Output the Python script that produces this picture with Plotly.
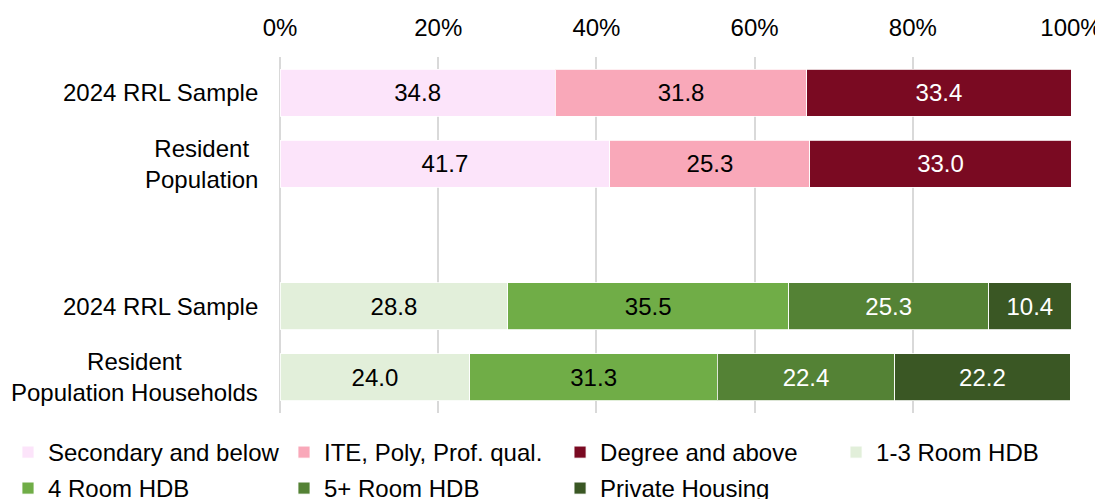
import plotly.graph_objects as go

# ---- data ----
row_ids = ["e1", "e2", "gap", "h1", "h2"]
row_labels = ["2024 RRL Sample", "Resident<br>Population", "", "2024 RRL Sample", "Resident<br>Population Households"]

edu_rows = ["e1", "e2"]
edu_series = ["Secondary and below", "ITE, Poly, Prof. qual.", "Degree and above"]
edu_values = {
    "Secondary and below": [34.8, 41.7],
    "ITE, Poly, Prof. qual.": [31.8, 25.3],
    "Degree and above": [33.4, 33.0],
}
house_rows = ["h1", "h2"]
house_series = ["1-3 Room HDB", "4 Room HDB", "5+ Room HDB", "Private Housing"]
house_values = {
    "1-3 Room HDB": [28.8, 24.0],
    "4 Room HDB": [35.5, 31.3],
    "5+ Room HDB": [25.3, 22.4],
    "Private Housing": [10.4, 22.2],
}
x_ticks = [0, 20, 40, 60, 80, 100]
x_tick_labels = ["0%", "20%", "40%", "60%", "80%", "100%"]

# ---- styles ----
colors = {
    "Secondary and below": "#FCE4FA",
    "ITE, Poly, Prof. qual.": "#F9A8B9",
    "Degree and above": "#7A0A22",
    "1-3 Room HDB": "#E2EFDA",
    "4 Room HDB": "#70AD47",
    "5+ Room HDB": "#548235",
    "Private Housing": "#3A5724",
}
text_colors = {
    "Secondary and below": "black",
    "ITE, Poly, Prof. qual.": "black",
    "Degree and above": "white",
    "1-3 Room HDB": "black",
    "4 Room HDB": "black",
    "5+ Room HDB": "white",
    "Private Housing": "white",
}
# legend placement: (legend name) for each series
legend_of = {
    "Secondary and below": "legend",
    "ITE, Poly, Prof. qual.": "legend",
    "Degree and above": "legend2",
    "1-3 Room HDB": "legend2",
    "4 Room HDB": "legend3",
    "5+ Room HDB": "legend3",
    "Private Housing": "legend4",
}
FONT = "Liberation Sans, Arial, sans-serif"
FS = 24

fig = go.Figure()


def add_series(rows, series, values):
    for s in series:
        fig.add_trace(go.Bar(
            y=rows, x=values[s], name=s, orientation="h",
            marker=dict(color=colors[s], line=dict(color="rgba(255,255,255,0.8)", width=1)),
            texttemplate="%{x:.1f}", textposition="inside",
            insidetextanchor="middle",
            textfont=dict(color=text_colors[s], size=FS, family=FONT),
            legend=legend_of[s], hoverinfo="skip",
        ))


add_series(edu_rows, edu_series, edu_values)
add_series(house_rows, house_series, house_values)

# y-axis labels as centered multi-line annotations
for rid, lab in zip(row_ids, row_labels):
    if lab:
        fig.add_annotation(
            x=0, xref="paper", y=rid, yref="y", text=lab, showarrow=False,
            xanchor="right", xshift=-20, align="center",
            font=dict(size=FS, family=FONT, color="black"),
        )

leg_common = dict(
    orientation="h", font=dict(size=FS, family=FONT, color="black"),
    entrywidth=231, entrywidthmode="pixels", bgcolor="rgba(0,0,0,0)",
    xanchor="left", yanchor="top", traceorder="normal",
    xref="container", yref="container",
)

fig.update_layout(
    width=1103, height=499,
    margin=dict(l=272, r=40, t=49, b=94, autoexpand=False),
    paper_bgcolor="white", plot_bgcolor="white",
    barmode="stack", bargap=0.34,
    font=dict(family=FONT, size=FS, color="black"),
    xaxis=dict(
        side="top", range=[0, 100], tickvals=x_ticks, ticktext=x_tick_labels,
        showgrid=True, gridcolor="#D9D9D9", gridwidth=1.5,
        zeroline=True, zerolinecolor="#D9D9D9", zerolinewidth=1.5,
        showline=False, ticks="", tickfont=dict(size=FS, family=FONT),
        ticklabelstandoff=15, fixedrange=True,
    ),
    yaxis=dict(
        type="category", categoryorder="array", categoryarray=row_ids,
        range=[4.5, -0.5], showticklabels=False, showgrid=False,
        zeroline=False, showline=False, ticks="",
    ),
    legend=dict(x=0.0, y=0.1543, **leg_common),
    legend2=dict(x=0.5005, y=0.1543, **leg_common),
    legend3=dict(x=0.0, y=0.0822, **leg_common),
    legend4=dict(x=0.5005, y=0.0822, **leg_common),
    showlegend=True,
)

fig.write_html("out.html")
